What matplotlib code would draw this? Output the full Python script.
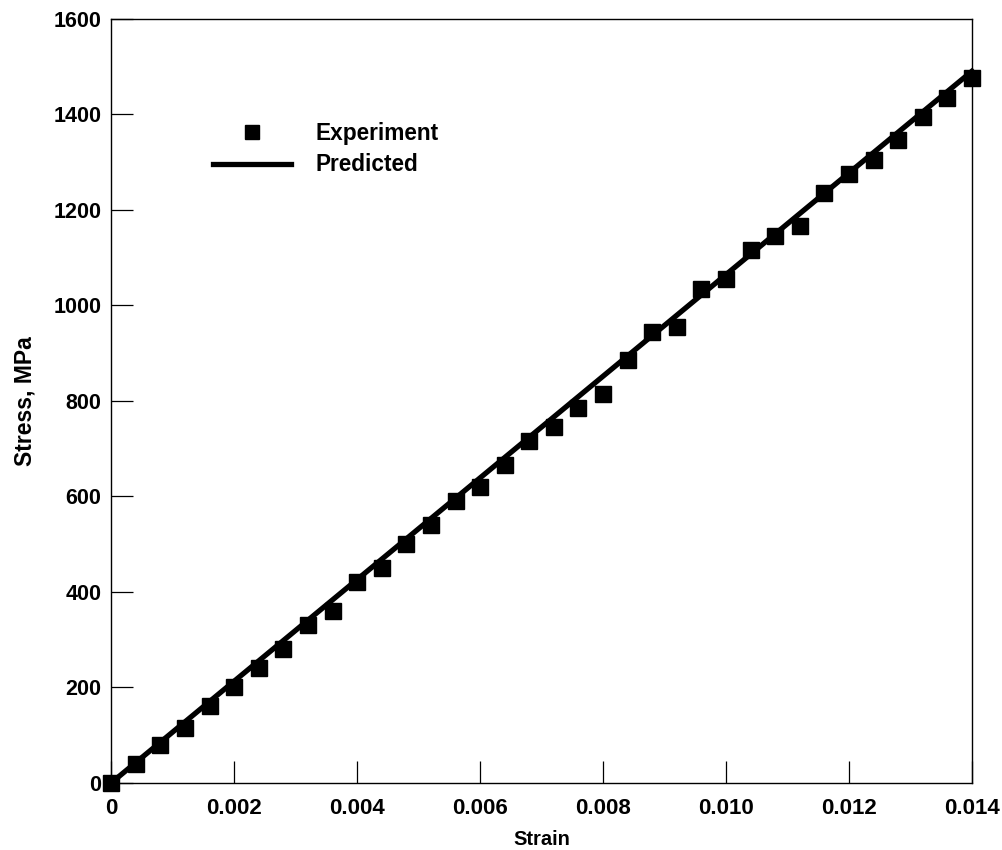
import matplotlib.pyplot as plt
import numpy as np

# === Data ===
strain_exp = np.arange(36) * 0.0004
stress_exp = [0, 40, 80, 115, 160, 200, 240, 280, 330, 360,
              420, 450, 500, 540, 590, 620, 665, 715, 745, 785,
              815, 885, 945, 955, 1035, 1055, 1115, 1145, 1165, 1235,
              1275, 1305, 1345, 1395, 1435, 1475]
strain_pred = [0.0, 0.014]
stress_pred = [0, 1490]

x_ticks = [0, 0.002, 0.004, 0.006, 0.008, 0.010, 0.012, 0.014]
x_labels = ["0", "0.002", "0.004", "0.006", "0.008", "0.010", "0.012", "0.014"]
y_ticks = list(range(0, 1601, 200))

plt.rcParams['font.family'] = ['Liberation Sans', 'DejaVu Sans']
plt.rcParams['font.weight'] = 'bold'

fig = plt.figure(figsize=(10.02, 8.5), dpi=100)
ax = fig.add_axes([0.111, 0.079, 0.859, 0.899])

ax.plot(strain_exp, stress_exp, 's', color='black', ms=11, label='Experiment',
        clip_on=False, zorder=3)
ax.plot(strain_pred, stress_pred, '-', color='black', lw=3.8, label='Predicted',
        clip_on=False, zorder=2)

ax.set_xlim(0, 0.014)
ax.set_ylim(0, 1600)
ax.set_xticks(x_ticks)
ax.set_xticklabels(x_labels)
ax.set_yticks(y_ticks)

ax.tick_params(direction='in', length=16, width=0.9, top=False, right=False)
ax.tick_params(axis='x', pad=11, labelsize=16)
ax.tick_params(axis='y', pad=7, labelsize=15.5)
for s in ax.spines.values():
    s.set_linewidth(1.0)

ax.set_xlabel('Strain', fontsize=14.5, fontweight='bold', labelpad=8)
ax.set_ylabel('Stress, MPa', fontsize=16.5, fontweight='bold', labelpad=12)

ax.legend(loc='upper left', bbox_to_anchor=(0.118, 0.865), frameon=False,
          fontsize=16.3, handlelength=3.45, handletextpad=1.1, labelspacing=0.38,
          borderpad=0, borderaxespad=0, markerscale=0.95)

fig.savefig('out.png', dpi=100)
